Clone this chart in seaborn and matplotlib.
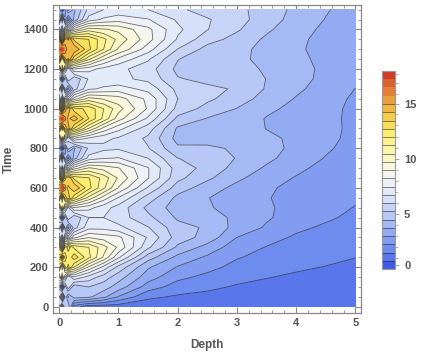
import numpy as np
import matplotlib
matplotlib.use("Agg")
import matplotlib.pyplot as plt
from matplotlib.colors import Normalize
from matplotlib.ticker import MultipleLocator
import seaborn as sns

# grid: one list per depth, values at time 0, 50, ..., 1500
time = list(range(0, 1501, 50))
depth = [0.0, 0.05, 0.1, 0.15, 0.25, 0.5, 0.75, 1.0, 1.5, 2.0, 2.5, 3.0, 3.5, 4.0, 4.5, 5.0]

# near the surface the field is noisy
temp_d000 = [6.0, 5.8, 5.0, 7.5, 11.5, 13.0, 11.8, 7.8, 5.4, 5.0, 8.0, 13.2, 15.6, 13.4, 8.2, 3.8,
             3.0, 7.6, 13.8, 16.4, 14.0, 8.0, 5.2, 5.0, 7.6, 14.4, 17.2, 14.6, 7.8, 3.8, 3.4]
temp_d005 = [2.5, 9.0, 1.7, 10.8, 8.2, 15.6, 7.9, 4.4, 9.2, 1.8, 11.7, 9.3, 17.6, 9.3, 4.9, 8.4,
             1.1, 11.4, 10.2, 18.0, 9.7, 4.25, 9.1, 1.8, 11.6, 10.6, 18.2, 9.9, 4.5, 8.0, 1.4]
temp_d010 = [5.0, 5.2, 4.8, 8.0, 11.8, 13.3, 12.0, 8.2, 5.0, 4.6, 8.4, 13.0, 14.6, 13.2, 8.6, 4.0,
             3.2, 8.0, 13.6, 15.2, 13.8, 8.5, 5.0, 4.6, 8.0, 14.0, 15.6, 14.2, 8.2, 3.8, 3.4]
temp_d015 = [5.2, 3.6, 6.5, 6.0, 13.0, 12.0, 13.2, 6.2, 3.4, 6.6, 6.5, 14.0, 13.2, 14.2, 6.8, 2.6,
             5.6, 6.1, 14.6, 14.0, 14.8, 6.6, 3.3, 6.7, 6.1, 15.0, 14.4, 15.0, 6.4, 2.4, 5.5]
temp_d025 = [1.8, 4.8, 4.6, 7.4, 11.2, 13.2, 11.8, 8.0, 5.6, 5.3, 8.2, 12.2, 14.2, 12.5, 8.6, 4.8,
             4.3, 8.2, 12.7, 14.7, 13.0, 8.6, 5.6, 5.3, 8.2, 12.9, 14.9, 13.3, 8.6, 4.6, 4.3]
temp_d050 = [1.0, 4.6, 5.2, 6.4, 8.8, 11.4, 11.2, 8.9, 7.2, 6.7, 7.7, 10.2, 12.2, 12.0, 9.8, 7.0,
             6.1, 7.3, 10.4, 12.7, 12.5, 10.0, 7.3, 6.8, 7.7, 10.6, 12.9, 12.7, 10.1, 7.0, 6.2]
temp_d075 = [1.0, 3.9, 4.8, 5.6, 7.2, 9.6, 10.0, 8.6, 7.2, 6.7, 7.0, 8.6, 10.6, 10.9, 9.4, 7.4,
             6.5, 6.9, 8.7, 11.0, 11.2, 9.6, 7.6, 6.9, 7.2, 9.0, 11.2, 11.4, 9.8, 7.6, 6.7]
temp_d100 = [1.0, 2.9, 4.1, 4.8, 5.7, 7.6, 8.8, 8.4, 6.9, 6.3, 6.4, 7.4, 8.9, 9.6, 9.0, 7.5,
             6.6, 6.6, 7.7, 9.3, 10.0, 9.3, 7.8, 6.9, 6.9, 8.0, 9.6, 10.2, 9.5, 7.9, 6.9]
temp_d150 = [1.0, 1.6, 2.6, 3.3, 3.8, 4.8, 6.1, 6.6, 6.0, 5.4, 5.0, 5.6, 6.6, 7.5, 7.5, 6.7,
             6.0, 5.8, 6.3, 7.3, 8.1, 8.0, 7.2, 6.5, 6.3, 6.8, 7.8, 8.5, 8.4, 7.5, 6.7]
temp_d200 = [1.0, 1.35, 1.85, 2.4, 2.9, 3.5, 4.3, 4.84, 4.73, 4.33, 4.08, 4.25, 4.83, 5.41, 5.59, 5.21,
             4.59, 4.18, 4.34, 5.0, 5.68, 5.96, 5.73, 5.26, 5.0, 5.24, 5.93, 6.61, 6.86, 6.6, 6.1]
temp_d250 = [1.0, 1.25, 1.6, 2.0, 2.45, 2.83, 3.42, 4.17, 4.34, 4.09, 3.78, 3.73, 4.07, 4.6, 4.97, 4.96,
             4.58, 4.18, 4.08, 4.41, 4.95, 5.35, 5.36, 5.01, 4.64, 4.57, 4.93, 5.5, 5.98, 6.02, 5.62]
temp_d300 = [1.0, 1.15, 1.38, 1.66, 1.96, 2.26, 2.53, 2.95, 3.43, 3.51, 3.41, 3.34, 3.49, 3.86, 4.17, 4.41,
             4.36, 4.16, 4.13, 4.11, 4.43, 4.81, 5.13, 5.07, 4.84, 4.67, 4.74, 4.94, 5.3, 5.5, 5.42]
temp_d350 = [1.0, 1.1, 1.27, 1.48, 1.72, 1.96, 2.17, 2.46, 2.86, 3.04, 3.04, 2.99, 3.05, 3.28, 3.6, 3.87,
             3.95, 3.86, 3.68, 3.66, 3.86, 4.16, 4.38, 4.43, 4.32, 4.18, 4.16, 4.32, 4.58, 4.79, 4.83]
temp_d400 = [1.0, 1.08, 1.2, 1.36, 1.54, 1.73, 1.92, 2.1, 2.35, 2.62, 2.72, 2.73, 2.77, 2.9, 3.12, 3.37,
             3.53, 3.55, 3.48, 3.44, 3.5, 3.65, 3.84, 3.95, 3.94, 3.85, 3.8, 3.85, 4.0, 4.18, 4.28]
temp_d450 = [1.0, 1.06, 1.15, 1.28, 1.43, 1.6, 1.77, 1.93, 2.09, 2.31, 2.44, 2.5, 2.53, 2.6, 2.73, 2.91,
             3.06, 3.14, 3.15, 3.13, 3.15, 3.24, 3.39, 3.51, 3.56, 3.54, 3.49, 3.49, 3.55, 3.67, 3.77]
temp_d500 = [1.0, 1.04, 1.1, 1.19, 1.31, 1.46, 1.61, 1.76, 1.92, 2.04, 2.17, 2.29, 2.32, 2.35, 2.41, 2.53,
             2.66, 2.75, 2.79, 2.79, 2.8, 2.84, 2.94, 3.05, 3.13, 3.15, 3.13, 3.12, 3.15, 3.24, 3.34]

# contour levels and legend range
line_levels = [0.7, 1.45, 2.2, 2.95, 3.7, 4.45, 5.2, 5.95, 6.7, 7.45, 8.2, 8.95, 9.7,
               10.45, 11.2, 11.95, 12.7, 13.45, 14.2, 14.95]
fill_levels = [-0.7] + line_levels + [15.8, 16.6, 17.4, 18.3]

temp_colors = ["#2d48e4", "#5270ea", "#7895ef", "#9cb2f3", "#bfcdf7", "#dde5fa",
               "#f2f4f6", "#fbfadc", "#fdf5a4", "#fcec6c", "#f6cb4b", "#eb9f3c",
               "#dc6a32", "#cc2626"]

sns.set_style("ticks")
plt.rcParams["font.family"] = ["Liberation Sans", "DejaVu Sans"]

columns = [temp_d000, temp_d005, temp_d010, temp_d015, temp_d025, temp_d050, temp_d075,
           temp_d100, temp_d150, temp_d200, temp_d250, temp_d300, temp_d350, temp_d400,
           temp_d450, temp_d500]
grid = np.array(columns).T

cmap = sns.blend_palette(temp_colors, as_cmap=True)
norm = Normalize(vmin=fill_levels[0], vmax=fill_levels[-1])

fig = plt.figure(figsize=(4.34, 3.58), dpi=100)
ax = fig.add_axes([0.1228, 0.1249, 0.7097, 0.862])

cf = ax.contourf(depth, time, grid, levels=fill_levels, cmap=cmap, norm=norm)
cs = ax.contour(depth, time, grid, levels=line_levels, colors="#222222",
                linewidths=0.6, alpha=0.65)

ax.set_xlim(-0.1, 5.1)
ax.set_ylim(-33, 1525)
ax.xaxis.set_major_locator(MultipleLocator(1))
ax.xaxis.set_minor_locator(MultipleLocator(0.2))
ax.yaxis.set_major_locator(MultipleLocator(200))
ax.yaxis.set_minor_locator(MultipleLocator(50))

grey = "#555555"
ax.tick_params(which="both", direction="in", top=True, right=True, color="#888888",
               labelcolor=grey, labelsize=8)
ax.tick_params(which="major", length=4, width=0.8)
ax.tick_params(which="minor", length=2.2, width=0.6)
for lab in ax.get_xticklabels() + ax.get_yticklabels():
    lab.set_fontweight("bold")
for sp in ax.spines.values():
    sp.set_color("#888888")
    sp.set_linewidth(0.9)

ax.set_xlabel("Depth", fontsize=8.5, fontweight="bold", color=grey, labelpad=8)
ax.set_ylabel("Time", fontsize=8.5, fontweight="bold", color=grey)
ax.yaxis.set_label_coords(-0.126, 0.5)

cax = fig.add_axes([0.8795, 0.2478, 0.0306, 0.554])
cb = fig.colorbar(cf, cax=cax, ticks=[0, 5, 10, 15])
cb.add_lines(cs)
cb.ax.yaxis.set_minor_locator(MultipleLocator(1))
cb.ax.tick_params(which="both", direction="out", color="#aaaaaa", labelcolor=grey, labelsize=8)
cb.ax.tick_params(which="major", length=3)
cb.ax.tick_params(which="minor", length=2)
for lab in cb.ax.get_yticklabels():
    lab.set_fontweight("bold")
cb.outline.set_edgecolor("#999999")
cb.outline.set_linewidth(0.8)

fig.savefig("out.png", dpi=100)
